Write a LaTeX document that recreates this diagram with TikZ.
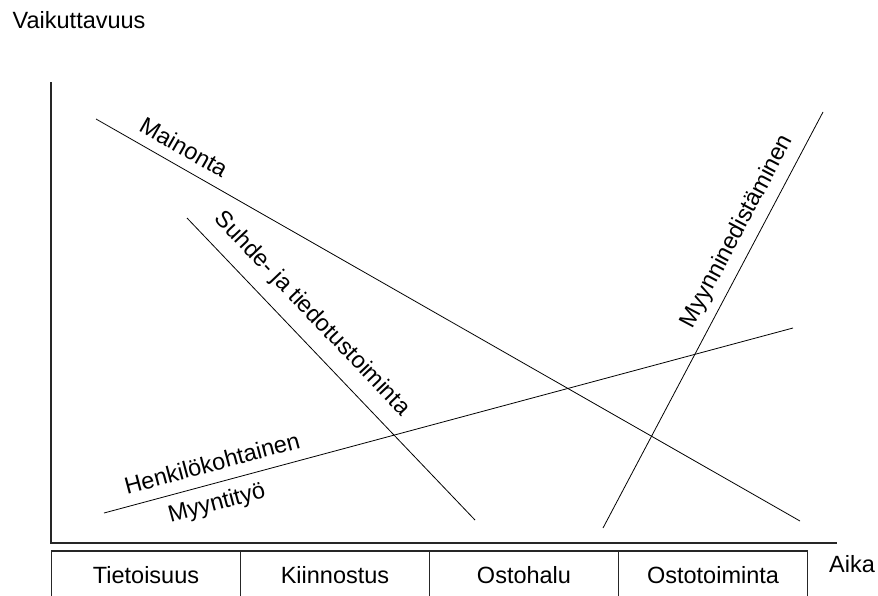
\documentclass[tikz,border=0pt]{standalone}
\usepackage{fontspec}
\setmainfont{Liberation Sans}
\begin{document}
\begin{tikzpicture}[x=1pt,y=-1pt,
  lbl/.style={font=\fontsize{23.5}{28}\selectfont, inner sep=0pt},
  axisline/.style={draw=black!85, line width=1.3pt},
  curveline/.style={draw=black, line width=0.8pt},
  stagebox/.style={draw=black!85, line width=1.1pt, minimum width=189pt, minimum height=48pt, inner sep=0pt, font=\fontsize{23.5}{28}\selectfont}]
\useasboundingbox (0,0) rectangle (878,595);
% axes
\coordinate (ytop) at (51,82);
\coordinate (orig) at (51,543);
\coordinate (xend) at (837,543);
\draw[axisline] (ytop) -- (orig) -- (xend);
\node[lbl, anchor=base west] (vaik) at (12.5,28.5) {Vaikuttavuus};
\node[lbl, anchor=base west] (aika) at (829,572) {Aika};
% stage boxes
\node[stagebox] (b1) at (146,575) {Tietoisuus};
\node[stagebox] (b2) at (335,575) {Kiinnostus};
\node[stagebox] (b3) at (524,575) {Ostohalu};
\node[stagebox] (b4) at (713,575) {Ostotoiminta};
% lines
\coordinate (m1) at (96,119);  \coordinate (m2) at (800,521);
\coordinate (s1) at (187,218); \coordinate (s2) at (475,520);
\coordinate (h1) at (104,513); \coordinate (h2) at (793,328);
\coordinate (p1) at (603,528); \coordinate (p2) at (823,112);
\draw[curveline] (m1) -- (m2);
\draw[curveline] (s1) -- (s2);
\draw[curveline] (h1) -- (h2);
\draw[curveline] (p1) -- (p2);
% labels
\node[lbl, rotate=-29.7] (lm) at (184,147) {Mainonta};
\node[lbl, rotate=-46.4] (ls) at (312,314) {Suhde- ja tiedotustoiminta};
\node[lbl, rotate=15.0] (lh) at (212,463) {Henkilökohtainen};
\node[lbl, rotate=15.0] (ly) at (217,504) {Myyntityö};
\node[lbl, rotate=62.1] (lp) at (737.5,231.5) {Myynninedistäminen};
\end{tikzpicture}
\end{document}
